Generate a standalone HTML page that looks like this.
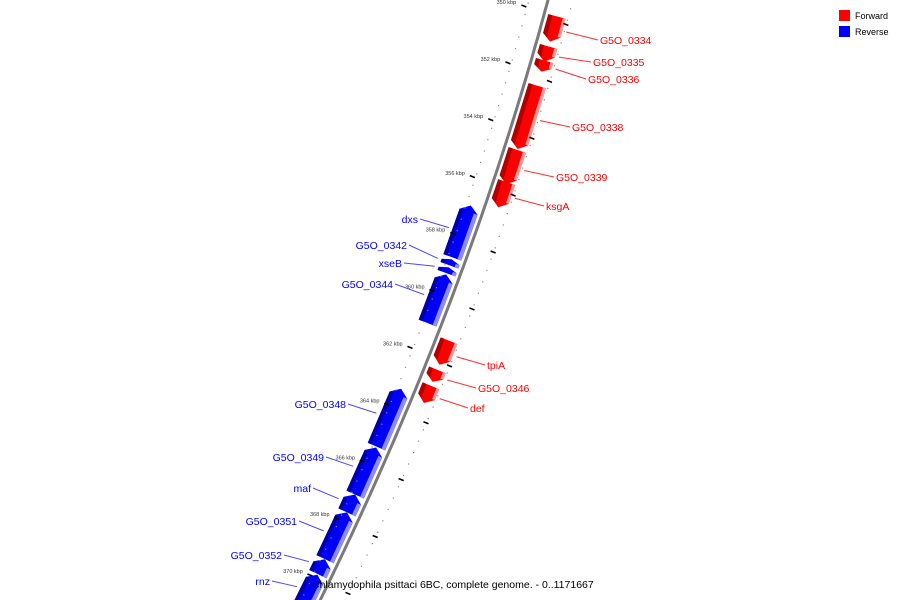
<!DOCTYPE html>
<html><head><meta charset="utf-8"><style>
html,body{margin:0;padding:0;background:#fff;overflow:hidden;}
svg{display:block;font-family:"Liberation Sans",sans-serif;overflow:hidden;}
</style></head><body>
<svg id="map" width="900" height="600" viewBox="0 0 900 600">
<g id="feats"></g>
<g id="ticks"></g>
<g id="labs"></g>
<g>
<rect x="839" y="10" width="11" height="11" fill="#ff0000"/>
<text x="855" y="19" font-size="9">Forward</text>
<rect x="839" y="26" width="11" height="11" fill="#0000ff"/>
<text x="855" y="35" font-size="9">Reverse</text>
</g>
<rect x="310" y="577" width="280" height="14" fill="#fff" opacity="0"/>
<text x="312" y="588" font-size="10.5" fill="#000">Chlamydophila psittaci 6BC, complete genome. - 0..1171667</text>
</svg>
<script>
const fwdNames=["G5O_0334","G5O_0335","G5O_0336","G5O_0338","G5O_0339","ksgA","tpiA","G5O_0346","def"];
const fwdStart=[350.35,351.40,351.89,352.77,355.02,356.15,361.70,362.72,363.28];
const fwdEnd=[351.23,351.93,352.28,354.99,356.22,357.03,362.54,363.14,363.88];
const fwdLabelPos=[[600,44],[593,66],[588,83],[572,131],[556,181],[546,210],[487,369],[478,392],[470,412]];
const revNames=["dxs","G5O_0342","xseB","G5O_0344","G5O_0348","G5O_0349","maf","G5O_0351","G5O_0352","rnz"];
const revStart=[357.27,359.17,359.45,359.70,363.74,365.81,367.47,368.10,369.75,370.30];
const revEnd=[359.10,359.38,359.66,361.42,365.78,367.47,368.10,369.75,370.28,371.50];
const revLabelPos=[[418,223],[407,249],[402,267],[393,288],[346,408],[324,461],[311,492],[297,525],[282,559],[270,585]];
const tickKbp=[350,352,354,356,358,360,362,364,366,368,370,372];

const NS="http://www.w3.org/2000/svg";
function yOf(k){return 60+(k-352)*28.45;}
function xOf(y){return 548-0.268*y-0.000186*y*y;}
function pt(k,d){const y=yOf(k);const s=-0.268-0.000372*y;const n=Math.sqrt(1+s*s);return [xOf(y)+d/n,y-s*d/n];}
function hpt(k,d){const y=yOf(k);return [xOf(y)+d,y];}
function poly(pts,fill,parent,name){const p=document.createElementNS(NS,'polygon');
p.setAttribute('points',pts.map(q=>q[0].toFixed(1)+','+q[1].toFixed(1)).join(' '));
p.setAttribute('fill',fill);


parent.appendChild(p);return p;}
function line(a,b,stroke,w,parent,name){const l=document.createElementNS(NS,'line');
l.setAttribute('x1',a[0]);l.setAttribute('y1',a[1]);l.setAttribute('x2',b[0]);l.setAttribute('y2',b[1]);
l.setAttribute('stroke',stroke);l.setAttribute('stroke-width',w);


parent.appendChild(l);return l;}
function text(x,y,str,fill,size,anchor,parent,name){const t=document.createElementNS(NS,'text');
t.setAttribute('x',x);t.setAttribute('y',y);t.setAttribute('fill',fill);t.setAttribute('font-size',size);
if(anchor)t.setAttribute('text-anchor',anchor);t.textContent=str;


parent.appendChild(t);return t;}

const feats=document.getElementById('feats'),ticks=document.getElementById('ticks'),labs=document.getElementById('labs');
const bb=[];
for(let k=349;k<=371.5;k+=0.25){bb.push(pt(k,0));}
const pl=document.createElementNS(NS,'polyline');
pl.setAttribute('points',bb.map(q=>q[0].toFixed(1)+','+q[1].toFixed(1)).join(' '));
pl.setAttribute('fill','none');pl.setAttribute('stroke','#7a7a7a');pl.setAttribute('stroke-width','3');


feats.appendChild(pl);

function arrow(k0,k1,d1,d2,dir){
  const a=Math.min(0.22,(k1-k0)*0.45),dm=(d1+d2)/2;
  if(dir>0) return [pt(k0,d1),pt(k1-a,d1),pt(k1,dm),pt(k1-a,d2),pt(k0,d2)];
  return [pt(k0+a,d1),pt(k1,d1),pt(k1,d2),pt(k0+a,d2),pt(k0,dm)];
}
fwdNames.forEach((nm,i)=>{
  const k0=fwdStart[i],k1=fwdEnd[i];
  const a=Math.min(0.22,(k1-k0)*0.45);
  poly(arrow(k0,k1,4,22,1),'#ff0000',feats,'forward-gene-'+nm);
  poly([pt(k0,4),pt(k1-a,4),pt(k1-a*0.55,9),pt(k0,8)],'#b00000',feats,'forward-gene-shade-'+nm);
  poly([pt(k0,19),pt(k1-a,19),pt(k1-a,22),pt(k0,22)],'#ff9a9a',feats,'forward-gene-highlight-'+nm);
  const lp=fwdLabelPos[i];const m=pt((k0+k1)/2,24);
  line([m[0]+2,m[1]],[lp[0]-2,lp[1]-4],'#ff3030',1,labs,'label-line-'+nm);
  text(lp[0],lp[1],nm,'#ff0000',10.5,null,labs,'label-'+nm);
});
revNames.forEach((nm,i)=>{
  const k0=revStart[i],k1=revEnd[i];
  poly(arrow(k0,k1,-23,-4,-1),'#0000ff',feats,'reverse-gene-'+nm);
  const a=Math.min(0.22,(k1-k0)*0.45);
  poly([pt(k0+a,-23),pt(k1,-23),pt(k1,-19),pt(k0+a,-19)],'#0000a8',feats,'reverse-gene-shade-'+nm);
  poly([pt(k0+a,-8),pt(k1,-8),pt(k1,-4),pt(k0+a,-4)],'#8c8cff',feats,'reverse-gene-highlight-'+nm);
  const lp=revLabelPos[i];const m=pt((k0+k1)/2,-25);
  line([lp[0]+2,lp[1]-4],[m[0]-2,m[1]],'#4a4aff',1,labs,'label-line-'+nm);
  text(lp[0],lp[1],nm,'#0000ff',10.5,'end',labs,'label-'+nm);
});
for(let k=349.6;k<=372;k+=0.4){
  const a=hpt(k,-19),b=hpt(k+0.2,25);
  poly([[a[0]-0.6,a[1]-0.6],[a[0]+0.6,a[1]-0.6],[a[0]+0.6,a[1]+0.6],[a[0]-0.6,a[1]+0.6]],'#888',ticks,'minor-tick-left');
  poly([[b[0]-0.6,b[1]-0.6],[b[0]+0.6,b[1]-0.6],[b[0]+0.6,b[1]+0.6],[b[0]-0.6,b[1]+0.6]],'#888',ticks,'minor-tick-right');
}
tickKbp.forEach(k=>{
  const a=hpt(k+0.1,-25),b=hpt(k+0.1,-20);
  line([a[0],a[1]-1],[b[0],b[1]+1],'#000',1.6,ticks,'major-tick-'+k);
  const c=hpt(k+0.75,22),d=hpt(k+0.75,27);
  line([c[0],c[1]-1],[d[0],d[1]+1],'#000',1.6,ticks,'right-tick-'+k);
  const p=hpt(k,-31);
  text(p[0],p[1]+1,k+' kbp','#333',5.5,'end',ticks,'tick-label-'+k);
});
</script>
</body></html>
